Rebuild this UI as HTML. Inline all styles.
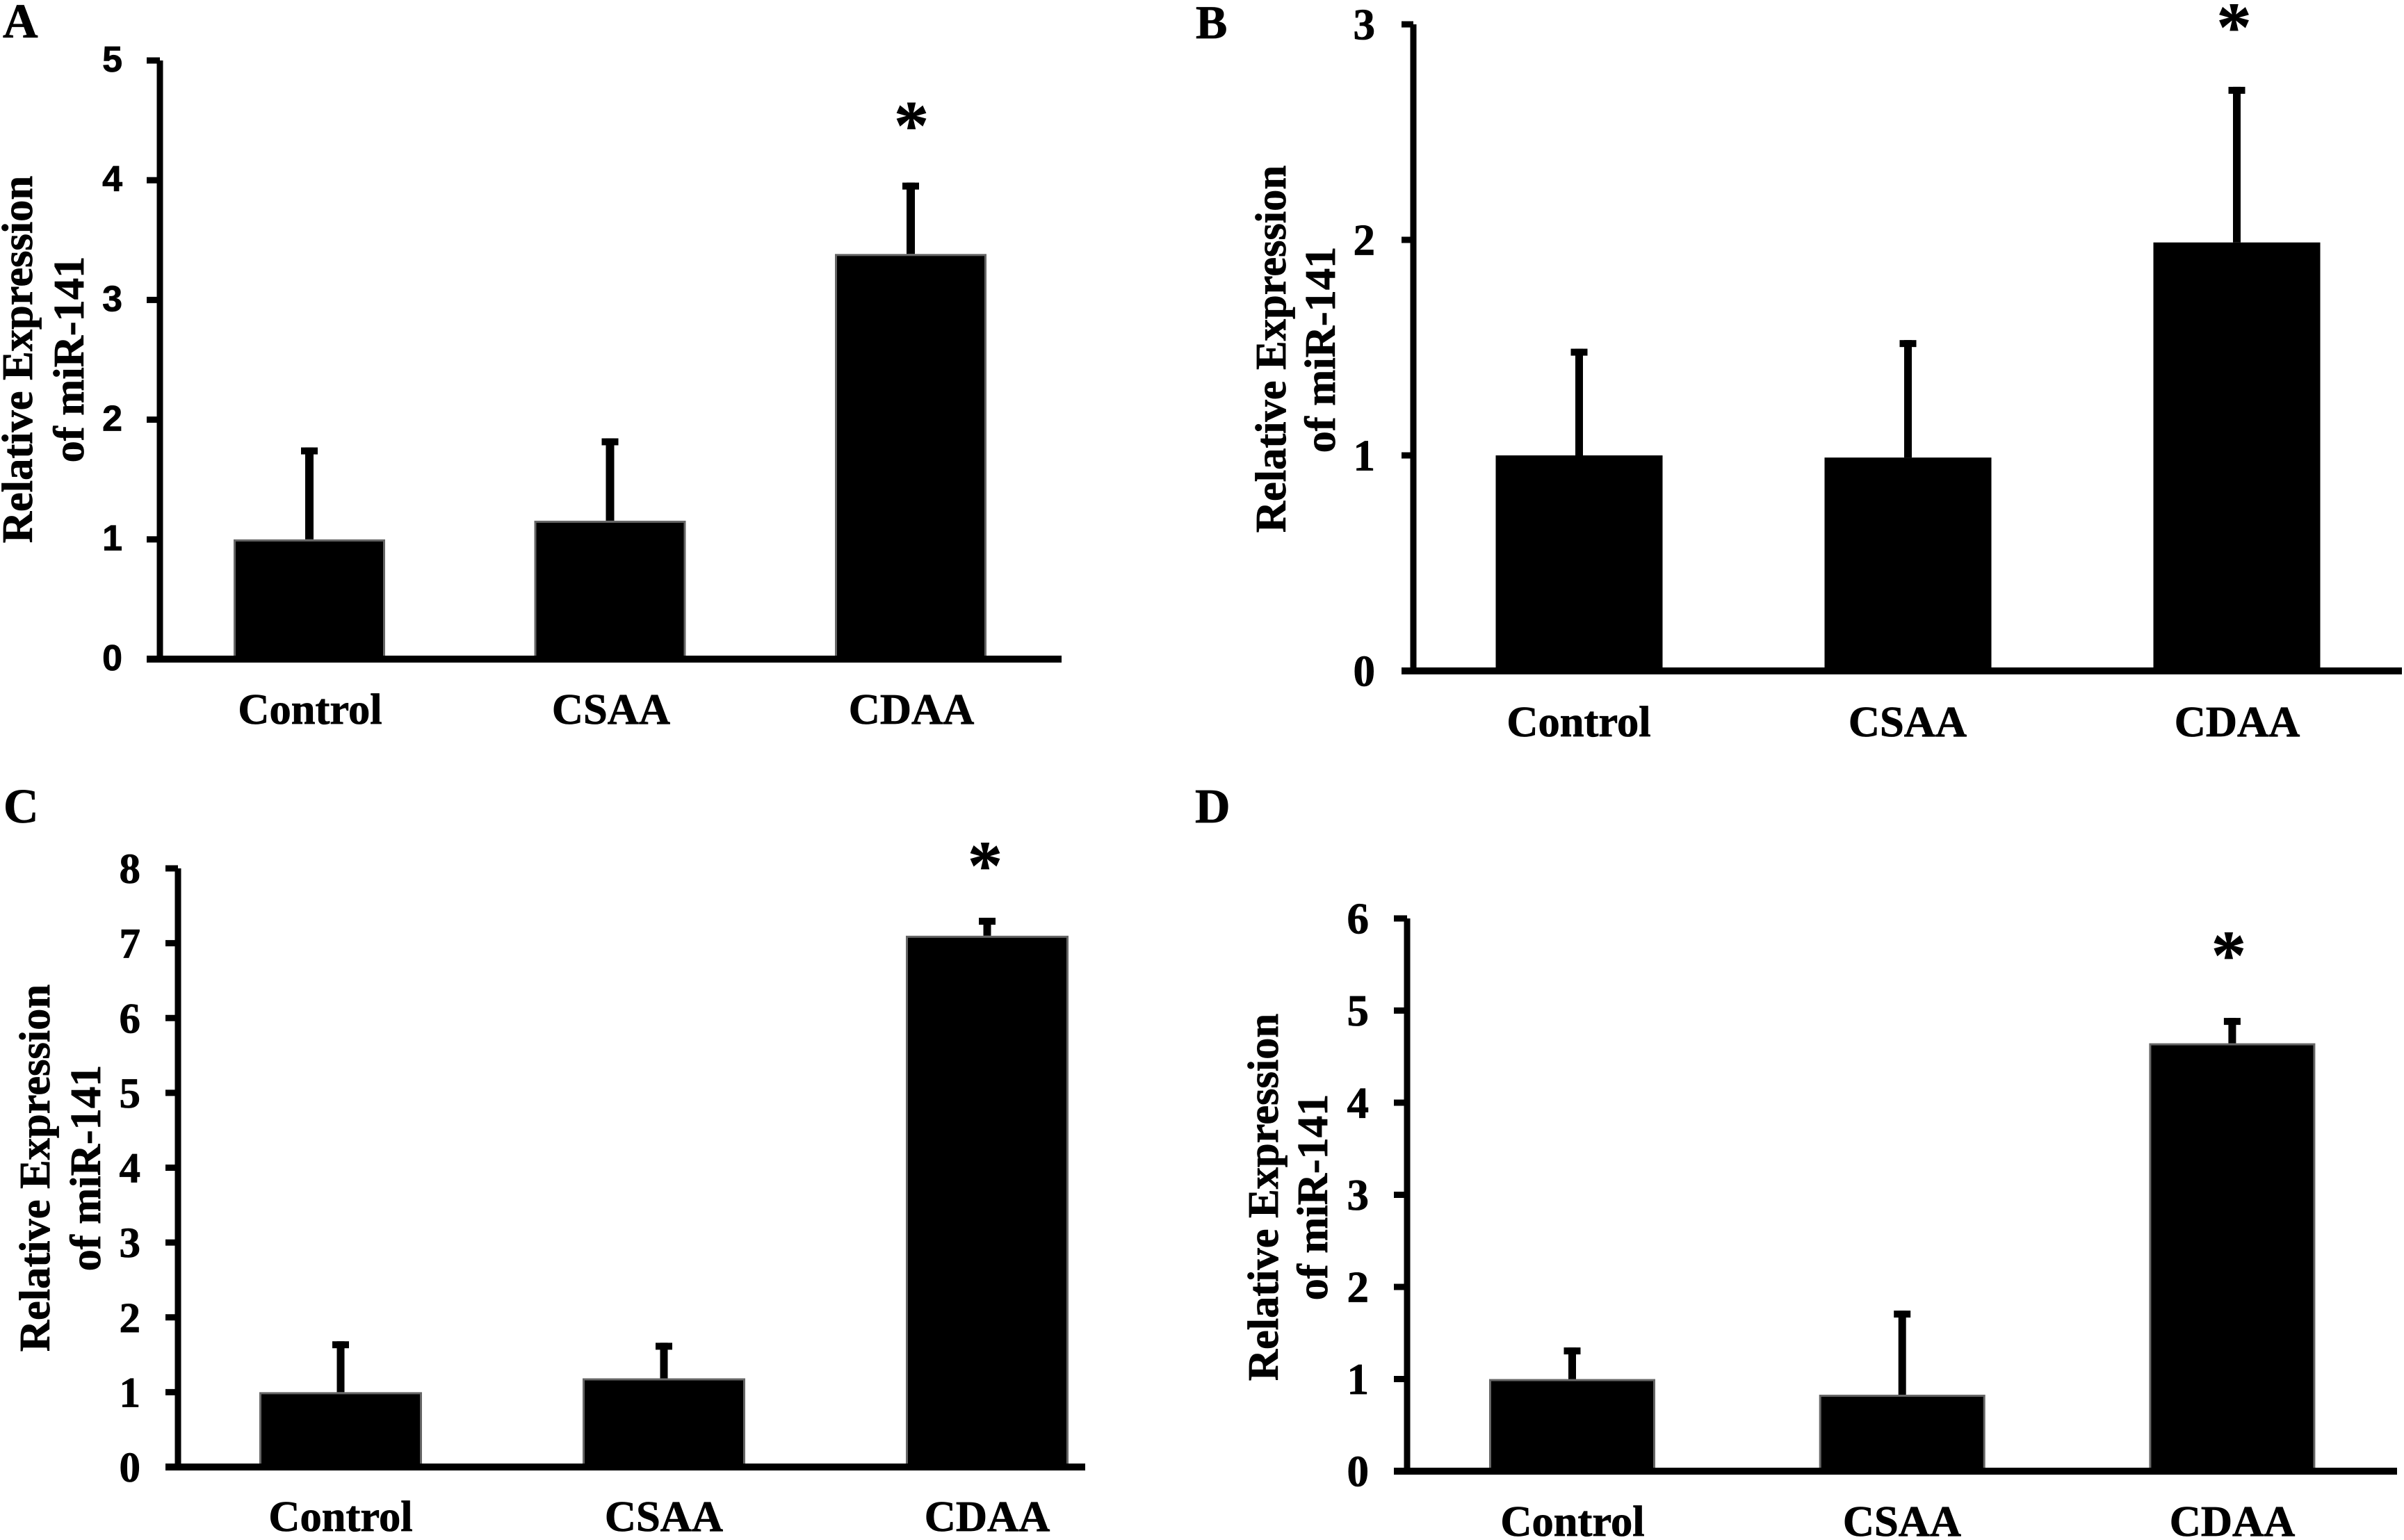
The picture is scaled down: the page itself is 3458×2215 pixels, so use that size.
<!DOCTYPE html>
<html lang="en">
<head>
<meta charset="utf-8">
<title>Relative Expression of miR-141</title>
<style>
html,body{margin:0;padding:0;background:#fff;}
svg{display:block;}
text{fill:#000;stroke:#000;stroke-width:0.8px;font-family:"Liberation Serif",serif;font-weight:bold;}
</style>
</head>
<body>
<svg id="figure" xmlns="http://www.w3.org/2000/svg" width="3458" height="2215" viewBox="0 0 3458 2215">
  <rect x="0" y="0" width="3458" height="2215" fill="#fff"/>

  <text x="4" y="54" font-size="70">A</text>
  <text x="1720" y="55" font-size="68">B</text>
  <text x="5" y="1183" font-size="70">C</text>
  <text x="1719" y="1183" font-size="70">D</text>

  <g font-size="62.5" text-anchor="middle">
    <text transform="translate(46 517) rotate(-90)">Relative Expression</text>
    <text transform="translate(120 517) rotate(-90)">of miR-141</text>
  </g>
  <g font-size="62.5" text-anchor="middle">
    <text transform="translate(1849 502) rotate(-90)">Relative Expression</text>
    <text transform="translate(1920 503) rotate(-90)">of miR-141</text>
  </g>
  <g font-size="62.5" text-anchor="middle">
    <text transform="translate(71 1680) rotate(-90)">Relative Expression</text>
    <text transform="translate(144 1680) rotate(-90)">of miR-141</text>
  </g>
  <g font-size="62.5" text-anchor="middle">
    <text transform="translate(1838 1722) rotate(-90)">Relative Expression</text>
    <text transform="translate(1909 1722) rotate(-90)">of miR-141</text>
  </g>

  <g id="charts"></g>
</svg>

<script>
// Data
const categories = ["Control", "CSAA", "CDAA"];

const ticksA = ["0", "1", "2", "3", "4", "5"];
const valuesA = [1.0, 1.156, 3.384];
const errorsA = [0.768, 0.688, 0.596];
const starsA = [false, false, true];

const ticksB = ["0", "1", "2", "3"];
const valuesB = [1.0, 0.99, 1.988];
const errorsB = [0.495, 0.545, 0.722];
const starsB = [false, false, true];

const ticksC = ["0", "1", "2", "3", "4", "5", "6", "7", "8"];
const valuesC = [1.0, 1.185, 7.1];
const errorsC = [0.68, 0.475, 0.24];
const starsC = [false, false, true];

const ticksD = ["0", "1", "2", "3", "4", "5", "6"];
const valuesD = [1.0, 0.83, 4.645];
const errorsD = [0.343, 0.913, 0.275];
const starsD = [false, false, true];

// Layout of each panel (geometry only, no data)
const panels = [
  {id:"a", ticks:ticksA, values:valuesA, errors:errorsA, stars:starsA,
   axisX:230, y0:948, yTop:87, xEnd:1527, tickLeft:211,
   firstBar:336, step:432.5, barW:218, border:"#666", capW:24, stemW:12,
   tickFont:'"Liberation Sans",sans-serif', tickSize:52, tickX:176, tickDy:-2,
   catY:1041, catCx:[446,879,1311], starGap:97, starDx:1},
  {id:"b", ticks:ticksB, values:valuesB, errors:errorsB, stars:starsB,
   axisX:2033, y0:965, yTop:35, xEnd:3455, tickLeft:2016,
   firstBar:2151.5, step:473, barW:240, border:"#000", capW:24, stemW:11,
   tickFont:'"Liberation Serif",serif', tickSize:63, tickX:1978, tickDy:0,
   catY:1059, catCx:[2271,2744,3218], starGap:101, starDx:-4},
  {id:"c", ticks:ticksC, values:valuesC, errors:errorsC, stars:starsC,
   axisX:256, y0:2110, yTop:1249, xEnd:1561, tickLeft:238,
   firstBar:373, step:465, barW:234, border:"#666", capW:24, stemW:11,
   tickFont:'"Liberation Serif",serif', tickSize:61, tickX:202, tickDy:0,
   catY:2202, catCx:[490,955,1420], starGap:90, starDx:-3},
  {id:"d", ticks:ticksD, values:valuesD, errors:errorsD, stars:starsD,
   axisX:2024, y0:2116, yTop:1321, xEnd:3448, tickLeft:2005,
   firstBar:2142, step:474.7, barW:239, border:"#666", capW:24, stemW:11,
   tickFont:'"Liberation Serif",serif', tickSize:63, tickX:1969, tickDy:0,
   catY:2209, catCx:[2262,2736,3211], starGap:105, starDx:-5}
];

const SVG_NS = "http://www.w3.org/2000/svg";
const root = document.getElementById("charts");

function make(tag, attrs, parent) {
  const el = document.createElementNS(SVG_NS, tag);
  for (const key in attrs) el.setAttribute(key, attrs[key]);
  parent.appendChild(el);
  return el;
}

function drawPanel(p) {
  const maxTick = Number(p.ticks[p.ticks.length - 1]);
  const yScale = function (v) { return p.y0 - (v / maxTick) * (p.y0 - p.yTop); };
  const xBar = function (i) { return p.firstBar + i * p.step; };

  const g = make("g", {}, root);
  
  

  // bars and error bars
  p.values.forEach(function (v, i) {
    const top = yScale(v);
    const capTop = yScale(v + p.errors[i]);
    const cx = xBar(i) + p.barW / 2;

    const stem = make("rect", {x: cx - p.stemW / 2, y: capTop, width: p.stemW, height: top - capTop, fill: "#000"}, g);
    
    

    const cap = make("rect", {x: cx - p.capW / 2, y: capTop, width: p.capW, height: 10, fill: "#000"}, g);
    
    

    const bar = make("rect", {x: xBar(i) + 1.5, y: top + 1.5, width: p.barW - 3, height: p.y0 - top - 1.5, fill: "#000", stroke: p.border, "stroke-width": 3}, g);
    
    

    const label = make("text", {x: p.catCx[i], y: p.catY, "font-size": 62.5, "text-anchor": "middle"}, g);
    label.textContent = categories[i];
    
    

    if (p.stars[i]) {
      const star = make("text", {x: cx + p.starDx, y: capTop - p.starGap + 48, "font-size": 100, "text-anchor": "middle"}, g);
      star.textContent = "*";
      
      
    }
  });

  // axes
  const yAxis = make("rect", {x: p.axisX - 4.5, y: p.yTop, width: 9, height: p.y0 - p.yTop + 5, fill: "#000"}, g);
  
  

  const xAxis = make("rect", {x: p.tickLeft, y: p.y0 - 5, width: p.xEnd - p.tickLeft, height: 10, fill: "#000"}, g);
  
  

  p.ticks.forEach(function (t) {
    const y = yScale(Number(t));
    const mark = make("rect", {x: p.tickLeft, y: y - 4.5, width: p.axisX - p.tickLeft, height: 9, fill: "#000"}, g);
    
    

    const label = make("text", {x: p.tickX, y: y + p.tickDy + p.tickSize * 0.345, "font-size": p.tickSize, "text-anchor": "end", style: "font-family:" + p.tickFont.replace(/"/g, "'")}, g);
    label.textContent = t;
    
    
  });
}

panels.forEach(drawPanel);
</script>
</body>
</html>
